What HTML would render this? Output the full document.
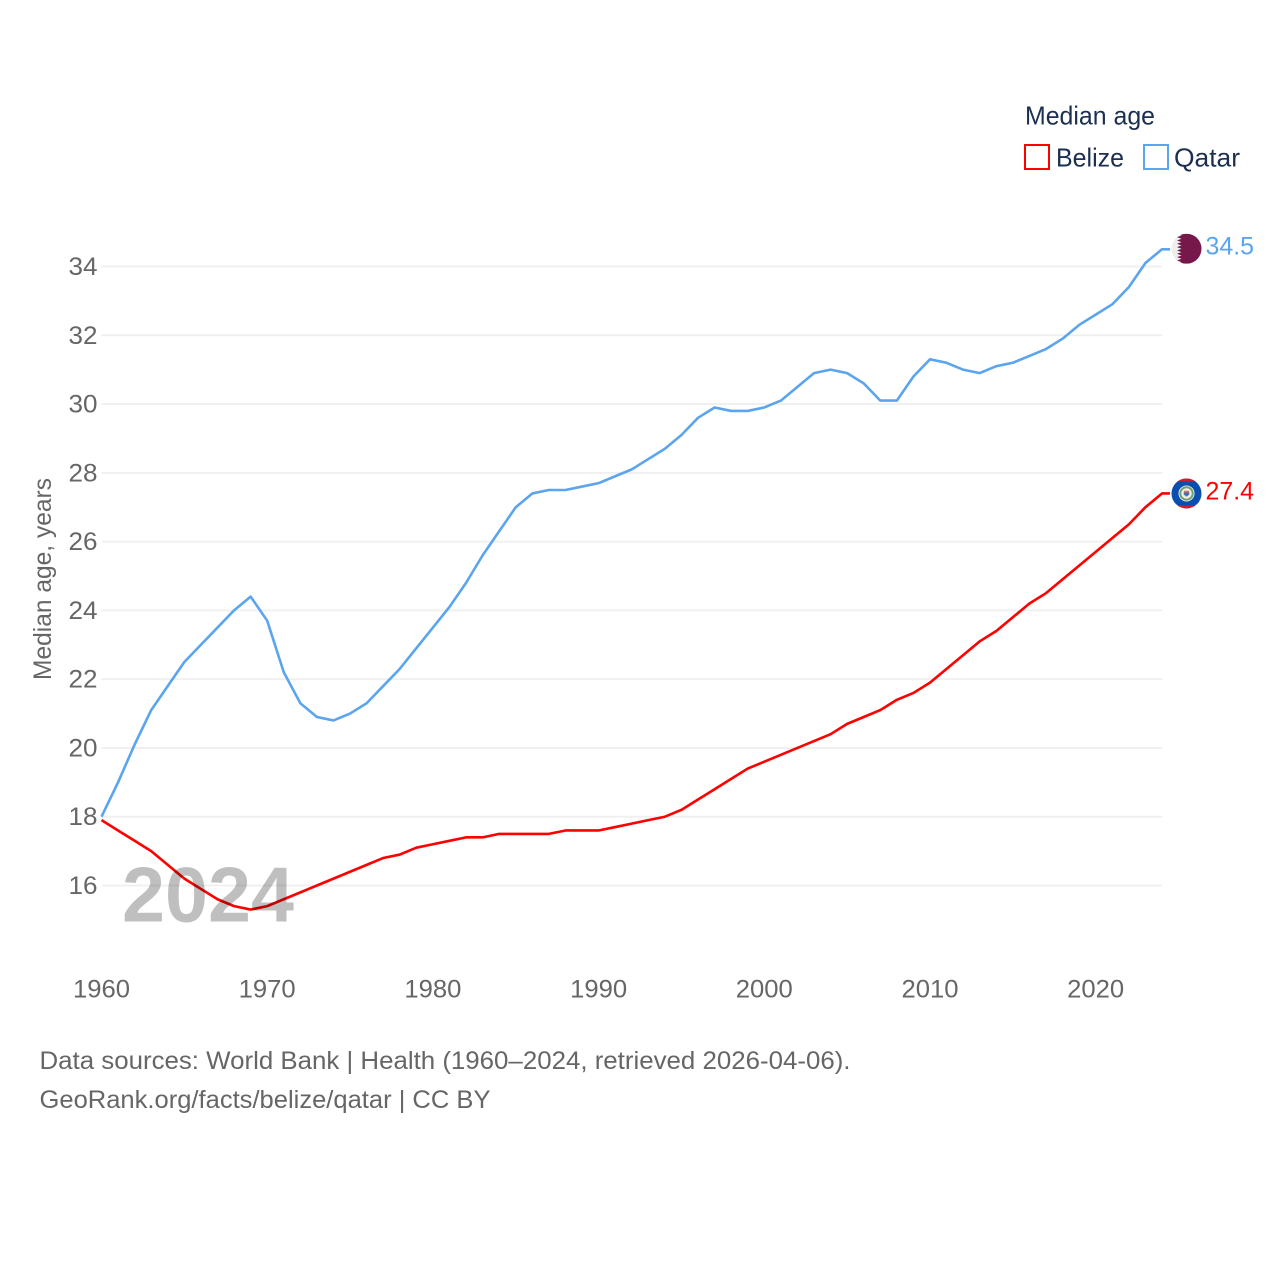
<!DOCTYPE html>
<html lang="en">
<head>
<meta charset="utf-8">
<title>Median age: Belize and Qatar</title>
<style>
html,body{margin:0;padding:0;background:#fff;width:1280px;height:1280px;overflow:hidden}
svg{display:block}
text{font-family:"Liberation Sans",sans-serif}
</style>
</head>
<body>
<svg id="chart" xmlns="http://www.w3.org/2000/svg" width="1280" height="1280" viewBox="0 0 1280 1280">
  <defs>
    <clipPath id="flag-clip"><circle cx="0" cy="0" r="15"/></clipPath>
  </defs>
  <rect width="1280" height="1280" fill="#fff"/>
  <g id="grid"></g>
  <g id="y-ticks"></g>
  <g id="x-ticks"></g>
  <text transform="translate(51,680) rotate(-90)" font-size="25" fill="#666" textLength="202" lengthAdjust="spacingAndGlyphs">Median age, years</text>
  <path id="line-qatar" fill="none" stroke="#5ba4ee" stroke-width="2.6" stroke-linejoin="round"/>
  <path id="line-belize" fill="none" stroke="#ff0000" stroke-width="2.6" stroke-linejoin="round"/>
  <text x="122" y="921.5" font-size="78" font-weight="bold" fill="#000" fill-opacity="0.25" textLength="172" lengthAdjust="spacingAndGlyphs">2024</text>
  <g id="flag-qatar" clip-path="url(#flag-clip)">
    <rect x="-15" y="-15" width="30" height="30" fill="#eeeeee"/>
    <polygon fill="#76184a" points="15,-15 -9.5,-15 -5,-13.3 -9.5,-11.7 -5,-10 -9.5,-8.3 -5,-6.7 -9.5,-5 -5,-3.3 -9.5,-1.7 -5,0 -9.5,1.7 -5,3.3 -9.5,5 -5,6.7 -9.5,8.3 -5,10 -9.5,11.7 -5,13.3 -9.5,15 15,15"/>
  </g>
  <g id="flag-belize" clip-path="url(#flag-clip)">
    <rect x="-15" y="-15" width="30" height="30" fill="#0a4fb0"/>
    <rect x="-15" y="-15" width="30" height="3" fill="#d01c2a"/>
    <rect x="-15" y="12" width="30" height="3" fill="#d01c2a"/>
    <circle r="8" fill="#f2f2ee"/>
    <circle r="6.2" fill="none" stroke="#6fa070" stroke-width="2"/>
    <circle r="3.6" fill="#e9d9b0"/>
    <path d="M-2.6 -1.5H2.6V1L0 3L-2.6 1Z" fill="#3f6fb5"/>
    <rect x="-2.6" y="-2.6" width="5.2" height="1.6" fill="#e0705a"/>
  </g>
  <text id="label-qatar" x="1205.5" y="254" font-size="25" fill="#5ba4ee" textLength="48.5" lengthAdjust="spacingAndGlyphs"></text>
  <text id="label-belize" x="1205.5" y="499" font-size="25" fill="#ff0000" textLength="48.5" lengthAdjust="spacingAndGlyphs"></text>

  <g>
    <text x="1025" y="124.5" font-size="26" fill="#1b2f50" textLength="130" lengthAdjust="spacingAndGlyphs">Median age</text>
    <rect x="1025" y="145" width="24" height="24" fill="none" stroke="#ff0000" stroke-width="2"/>
    <text x="1056" y="166.5" font-size="26" fill="#1b2f50" textLength="68" lengthAdjust="spacingAndGlyphs">Belize</text>
    <rect x="1144" y="145" width="24" height="24" fill="none" stroke="#5ba4ee" stroke-width="2"/>
    <text x="1174" y="166.5" font-size="26" fill="#1b2f50" textLength="66" lengthAdjust="spacingAndGlyphs">Qatar</text>
  </g>

  <text x="39.5" y="1069" font-size="25" fill="#666" textLength="811" lengthAdjust="spacingAndGlyphs">Data sources: World Bank | Health (1960–2024, retrieved 2026-04-06).</text>
  <text x="39.5" y="1108" font-size="25" fill="#666" textLength="451" lengthAdjust="spacingAndGlyphs">GeoRank.org/facts/belize/qatar | CC BY</text>
</svg>
<script>
const years = [1960,1961,1962,1963,1964,1965,1966,1967,1968,1969,1970,1971,1972,1973,1974,1975,1976,1977,1978,1979,1980,1981,1982,1983,1984,1985,1986,1987,1988,1989,1990,1991,1992,1993,1994,1995,1996,1997,1998,1999,2000,2001,2002,2003,2004,2005,2006,2007,2008,2009,2010,2011,2012,2013,2014,2015,2016,2017,2018,2019,2020,2021,2022,2023,2024];
const belize = [17.9,17.6,17.3,17.0,16.6,16.2,15.9,15.6,15.4,15.3,15.4,15.6,15.8,16.0,16.2,16.4,16.6,16.8,16.9,17.1,17.2,17.3,17.4,17.4,17.5,17.5,17.5,17.5,17.6,17.6,17.6,17.7,17.8,17.9,18.0,18.2,18.5,18.8,19.1,19.4,19.6,19.8,20.0,20.2,20.4,20.7,20.9,21.1,21.4,21.6,21.9,22.3,22.7,23.1,23.4,23.8,24.2,24.5,24.9,25.3,25.7,26.1,26.5,27.0,27.4];
const qatar = [18.0,19.0,20.1,21.1,21.8,22.5,23.0,23.5,24.0,24.4,23.7,22.2,21.3,20.9,20.8,21.0,21.3,21.8,22.3,22.9,23.5,24.1,24.8,25.6,26.3,27.0,27.4,27.5,27.5,27.6,27.7,27.9,28.1,28.4,28.7,29.1,29.6,29.9,29.8,29.8,29.9,30.1,30.5,30.9,31.0,30.9,30.6,30.1,30.1,30.8,31.3,31.2,31.0,30.9,31.1,31.2,31.4,31.6,31.9,32.3,32.6,32.9,33.4,34.1,34.5];
const yTicks = [16,18,20,22,24,26,28,30,32,34];
const xTicks = [1960,1970,1980,1990,2000,2010,2020];

const NS = 'http://www.w3.org/2000/svg';
const xScale = function (year) { return 101.5 + (year - 1960) * 16.57; };
const yScale = function (value) { return 885.5 - (value - 16) * 34.39; };

function linePath(values) {
  let d = '';
  values.forEach(function (v, i) {
    d += (i ? 'L' : 'M') + xScale(years[i]).toFixed(2) + ' ' + yScale(v).toFixed(2);
  });
  d += 'H' + (xScale(years[years.length - 1]) + 8).toFixed(2);
  return d;
}

const gridGroup = document.getElementById('grid');
const yGroup = document.getElementById('y-ticks');
yTicks.forEach(function (t) {
  const line = document.createElementNS(NS, 'line');
  
  
  line.setAttribute('x1', xScale(1960));
  line.setAttribute('x2', xScale(2024));
  line.setAttribute('y1', yScale(t));
  line.setAttribute('y2', yScale(t));
  line.setAttribute('stroke', '#f0f0f0');
  line.setAttribute('stroke-width', '2');
  gridGroup.appendChild(line);

  const label = document.createElementNS(NS, 'text');
  
  
  label.setAttribute('x', '68.5');
  label.setAttribute('y', yScale(t) + 8.5);
  label.setAttribute('font-size', '25');
  label.setAttribute('fill', '#666');
  label.setAttribute('textLength', '29');
  label.setAttribute('lengthAdjust', 'spacingAndGlyphs');
  label.textContent = t;
  yGroup.appendChild(label);
});

const xGroup = document.getElementById('x-ticks');
xTicks.forEach(function (t) {
  const label = document.createElementNS(NS, 'text');
  
  
  label.setAttribute('x', xScale(t) - 28.5);
  label.setAttribute('y', '997.5');
  label.setAttribute('font-size', '25');
  label.setAttribute('fill', '#666');
  label.setAttribute('textLength', '57');
  label.setAttribute('lengthAdjust', 'spacingAndGlyphs');
  label.textContent = t;
  xGroup.appendChild(label);
});

document.getElementById('line-belize').setAttribute('d', linePath(belize));
document.getElementById('line-qatar').setAttribute('d', linePath(qatar));

const lastBelize = belize[belize.length - 1];
const lastQatar = qatar[qatar.length - 1];
document.getElementById('flag-belize').setAttribute('transform', 'translate(1186.5,' + yScale(lastBelize).toFixed(2) + ')');
document.getElementById('flag-qatar').setAttribute('transform', 'translate(1186.5,' + (yScale(lastQatar) - 0.5).toFixed(2) + ')');
const labelBelize = document.getElementById('label-belize');
labelBelize.textContent = lastBelize.toFixed(1);
labelBelize.setAttribute('y', (yScale(lastBelize) + 6).toFixed(2));
const labelQatar = document.getElementById('label-qatar');
labelQatar.textContent = lastQatar.toFixed(1);
labelQatar.setAttribute('y', (yScale(lastQatar) + 5).toFixed(2));
</script>
</body>
</html>
